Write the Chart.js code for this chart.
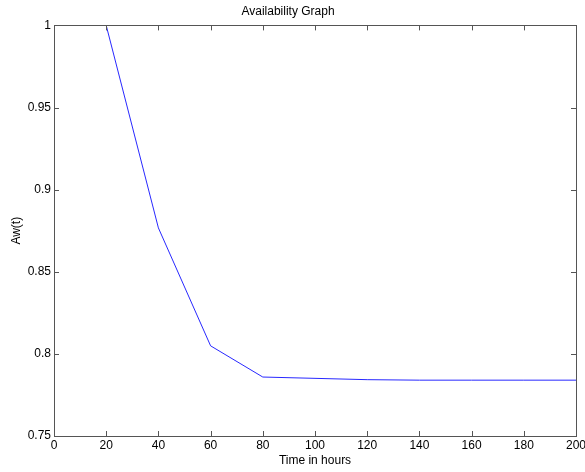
<!DOCTYPE html>
<html>
<head>
<meta charset="utf-8">
<script src="https://cdn.jsdelivr.net/npm/chart.js@4"></script>
<style>
  html, body { margin: 0; padding: 0; background: #fff; }
  #wrap { width: 585px; height: 472px; }
</style>
</head>
<body>
<div id="wrap"><canvas id="availChart" width="585" height="472"></canvas></div>
<script>
// data
const hours = [20, 40, 60, 80, 100, 120, 140, 160, 180, 200];
const availability = [1.0, 0.8767, 0.8049, 0.7859, 0.7851, 0.7843, 0.784, 0.784, 0.784, 0.784];
const xTicks = [0, 20, 40, 60, 80, 100, 120, 140, 160, 180, 200];
const yTicks = [0.75, 0.8, 0.85, 0.9, 0.95, 1];

const axisColor = '#555';
const fontFam = '"Liberation Sans", Arial, sans-serif';

// matlab style box with ticks pointing inward
const boxTicks = {
    id: 'boxTicks',
    afterDraw(chart) {
        const c = chart.ctx;
        const a = chart.chartArea;
        const xs = chart.scales.x, ys = chart.scales.y;
        c.save();
        c.strokeStyle = axisColor;
        c.lineWidth = 1;
        c.beginPath();
        xTicks.forEach(v => {
            const px = Math.round(xs.getPixelForValue(v)) + 0.5;
            c.moveTo(px, a.bottom); c.lineTo(px, a.bottom - 5);
            c.moveTo(px, a.top); c.lineTo(px, a.top + 5);
        });
        yTicks.forEach(v => {
            const py = Math.round(ys.getPixelForValue(v)) + 0.5;
            c.moveTo(a.left, py); c.lineTo(a.left + 5, py);
            c.moveTo(a.right, py); c.lineTo(a.right - 5, py);
        });
        c.stroke();
        c.strokeRect(Math.round(a.left) + 0.5, Math.round(a.top) + 0.5,
            Math.round(a.right - a.left), Math.round(a.bottom - a.top));
        c.restore();
    }
};

const ctx = document.getElementById('availChart').getContext('2d');
const availChart = new Chart(ctx, {
    type: 'line',
    data: {
        datasets: [{
            label: 'Aw(t)',
            data: hours.map((h, i) => ({ x: h, y: availability[i] })),
            borderColor: 'rgb(40, 40, 255)',
            borderWidth: 1,
            pointRadius: 0,
            tension: 0,
            fill: false
        }]
    },
    options: {
        responsive: false,
        animation: false,
        layout: { padding: { left: 0, right: 9, top: 0, bottom: 0 } },
        plugins: {
            legend: { display: false },
            tooltip: { enabled: false },
            title: {
                display: true,
                text: 'Availability Graph',
                color: '#000',
                font: { family: fontFam, size: 12, weight: 'normal', lineHeight: 1.2 },
                padding: { top: 4, bottom: 7 }
            }
        },
        scales: {
            x: {
                type: 'linear',
                min: 0,
                max: 200,
                afterFit: s => { s.height = 36; s.paddingLeft = 0; s.paddingRight = 0; },
                afterBuildTicks: s => { s.ticks = xTicks.map(v => ({ value: v })); },
                grid: { display: false, drawTicks: false },
                border: { display: false },
                ticks: {
                    color: '#000',
                    padding: 2,
                    maxRotation: 0,
                    autoSkip: false,
                    font: { family: fontFam, size: 12 }
                },
                title: {
                    display: true,
                    text: 'Time in hours',
                    color: '#000',
                    font: { family: fontFam, size: 12 },
                    padding: { top: 0, bottom: 4 }
                }
            },
            y: {
                min: 0.75,
                max: 1,
                afterFit: s => { s.width = 54; s.paddingTop = 0; s.paddingBottom = 0; },
                afterBuildTicks: s => { s.ticks = yTicks.map(v => ({ value: v })); },
                grid: { display: false, drawTicks: false },
                border: { display: false },
                ticks: {
                    color: '#000',
                    padding: 3,
                    autoSkip: false,
                    font: { family: fontFam, size: 12 },
                    callback: v => String(+v.toFixed(2))
                },
                title: {
                    display: true,
                    text: 'Aw(t)',
                    color: '#000',
                    font: { family: fontFam, size: 12 },
                    padding: { top: 9, bottom: 0 }
                }
            }
        }
    },
    plugins: [boxTicks]
});
</script>
</body>
</html>
